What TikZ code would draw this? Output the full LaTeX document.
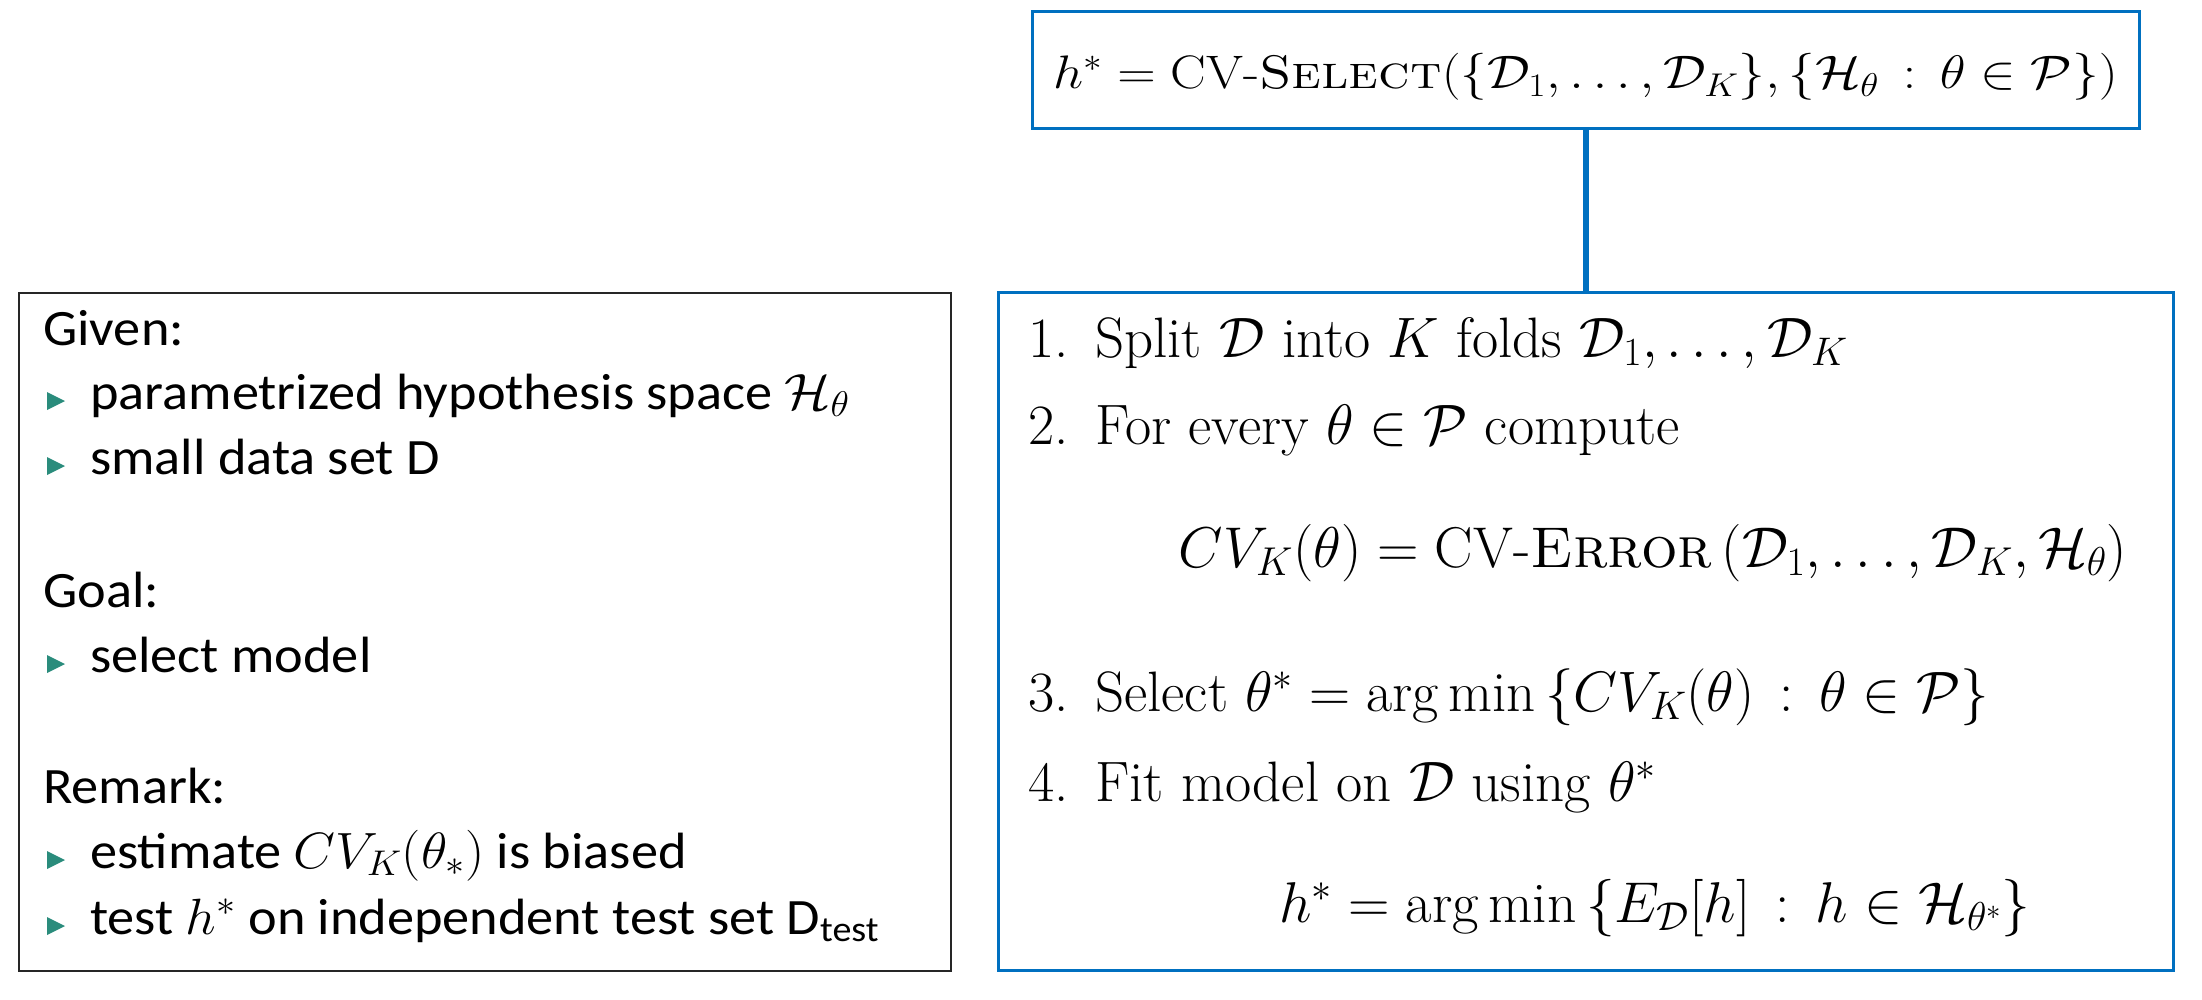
\RequirePackage{fix-cm}
\documentclass[tikz,border=0pt]{standalone}
\usepackage{amsmath}
\usepackage{fontspec}
\newfontfamily\calib{Carlito}
\definecolor{boxblue}{RGB}{0,112,192}
\definecolor{bulteal}{RGB}{42,140,124}
\definecolor{boxgray}{RGB}{38,38,38}
\newcommand{\lstretch}[1]{\scalebox{1.065}[1]{#1}}
\newcommand{\tstretch}[1]{\scalebox{1.135}[1]{#1}}
\tikzset{
  bluebox/.style={draw=boxblue, line width=3pt, inner sep=0pt},
  graybox/.style={draw=boxgray, line width=2.8pt, inner sep=0pt},
  lefttxt/.style={anchor=base west, inner sep=0pt, font=\calib\fontsize{51}{60}\selectfont},
  righttxt/.style={anchor=base west, inner sep=0pt, font=\fontsize{57}{68}\selectfont},
  eqtxt/.style={anchor=base, inner sep=0pt, font=\fontsize{57.5}{68}\selectfont},
  seltxt/.style={anchor=base, inner sep=0pt, font=\fontsize{47}{56}\selectfont},
  link/.style={draw=boxblue, line width=6pt},
  bul/.style={fill=bulteal}
}
\newcommand{\bulletat}[1]{\fill[bul] (47,#1-17) -- (65,#1-8) -- (47,#1+1) -- cycle;}
\begin{document}
\begin{tikzpicture}[x=1pt,y=-1pt]
\useasboundingbox (0,0) rectangle (2202,1000);
% boxes
\node[graybox, minimum width=932pt, minimum height=678pt] (leftbox) at (485,632) {};
\node[bluebox, minimum width=1175pt, minimum height=678pt] (stepsbox) at (1585.5,631) {};
\node[bluebox, minimum width=1107pt, minimum height=117pt] (selbox) at (1585.5,70.5) {};
\draw[link] (selbox.south) -- (stepsbox.north);
% top formula
\node[seltxt] (sel) at (1585.5,89) {\tstretch{$h^* = \mbox{CV-\textsc{Select}}(\{\mathcal{D}_1,\ldots,\mathcal{D}_K\},\{\mathcal{H}_\theta\,:\,\theta\in\mathcal{P}\})$}};
% left box
\node[lefttxt] (given) at (43,345) {\lstretch{Given:}};
\bulletat{409}
\node[lefttxt] (it1) at (90,409) {\lstretch{parametrized hypothesis space $\mathcal{H}_\theta$}};
\bulletat{474}
\node[lefttxt] (it2) at (90,474) {\lstretch{small data set D}};
\node[lefttxt] (goal) at (43,607) {\lstretch{Goal:}};
\bulletat{672}
\node[lefttxt] (it3) at (90,672) {\lstretch{select model}};
\node[lefttxt] (remark) at (43,803) {\lstretch{Remark:}};
\bulletat{868}
\node[lefttxt] (it4) at (90,868) {\lstretch{estimate $CV_K(\theta_*)$ is biased}};
\bulletat{934}
\node[lefttxt] (it5) at (90,934) {\lstretch{test $h^*$ on independent test set D$_{\text{test}}$}};
% right box
\node[righttxt] (n1) at (1028,357) {1.};
\node[righttxt] (t1) at (1095,357) {Split $\mathcal{D}$ into $K$ folds $\mathcal{D}_1,\ldots,\mathcal{D}_K$};
\node[righttxt] (n2) at (1028,444) {2.};
\node[righttxt] (t2) at (1095,444) {For every $\theta\in\mathcal{P}$ compute};
\node[eqtxt] (e1) at (1653,567) {$CV_K(\theta) = \mbox{CV-\textsc{Error}}\,(\mathcal{D}_1,\ldots,\mathcal{D}_K,\mathcal{H}_\theta)$};
\node[righttxt] (n3) at (1028,711) {3.};
\node[righttxt] (t3) at (1095,711) {Select $\theta^* = \operatorname*{arg\,min}\,\{CV_K(\theta)\,:\,\theta\in\mathcal{P}\}$};
\node[righttxt] (n4) at (1028,801) {4.};
\node[righttxt] (t4) at (1095,801) {Fit model on $\mathcal{D}$ using $\theta^*$};
\node[eqtxt] (e2) at (1655,922) {$h^* = \operatorname*{arg\,min}\,\{E_{\mathcal{D}}[h]\,:\,h\in\mathcal{H}_{\theta^*}\}$};
\end{tikzpicture}
\end{document}
